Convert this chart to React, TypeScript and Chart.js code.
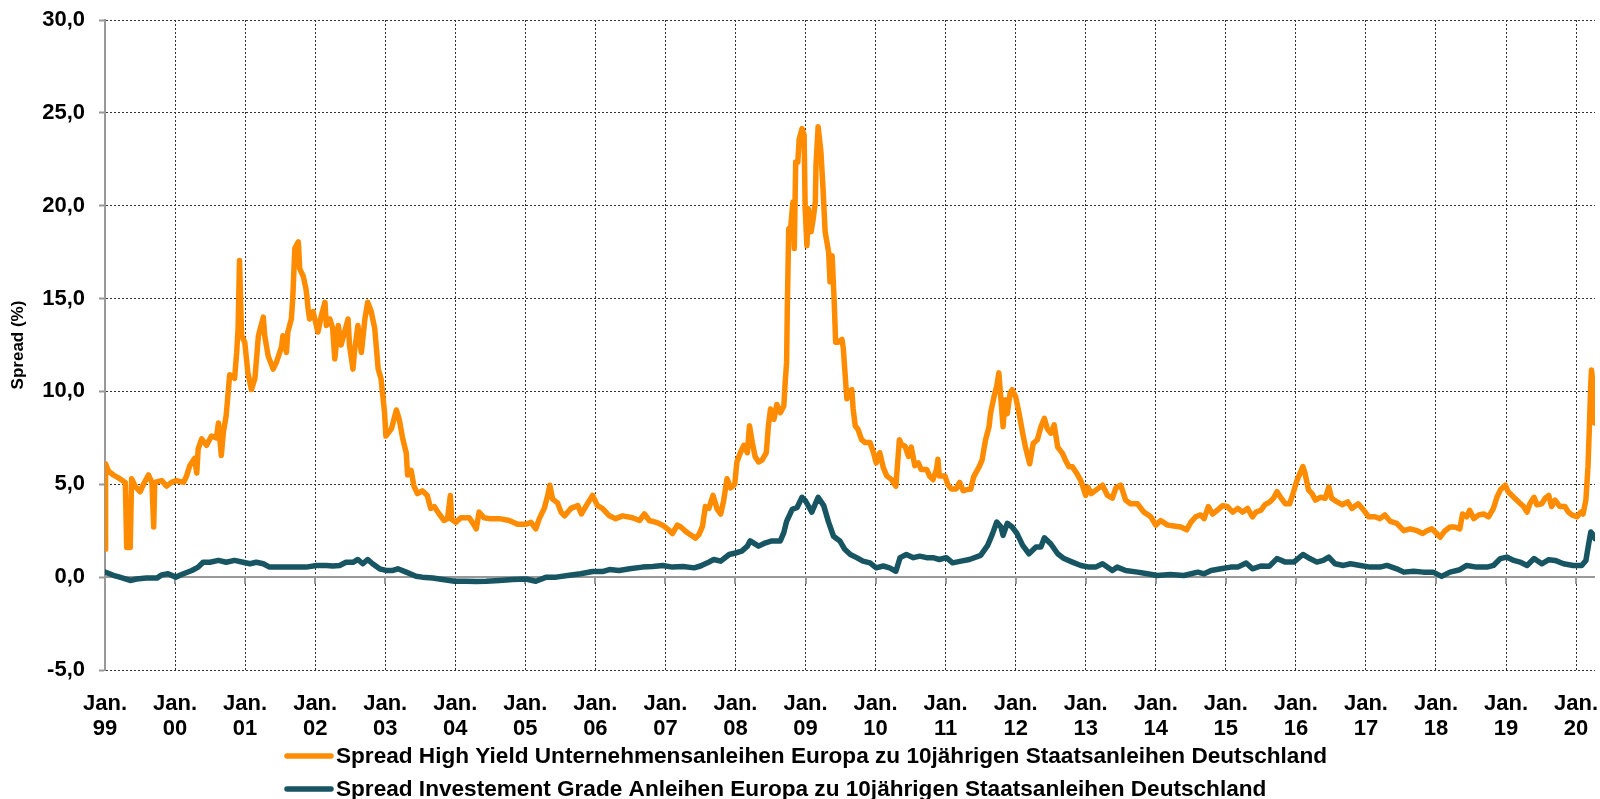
import React, { useEffect, useRef } from 'react';
import { Chart, registerables } from 'chart.js';

Chart.register(...registerables);

// High Yield spread (decimal year, %)
const hyDates = [
  1999.0, 1999.008, 1999.05, 1999.12, 1999.21, 1999.29, 1999.31, 1999.36, 1999.38, 1999.43,
  1999.5, 1999.55, 1999.62, 1999.67, 1999.695, 1999.71, 1999.81, 1999.88, 1999.95, 2000.02,
  2000.12, 2000.16, 2000.21, 2000.28, 2000.31, 2000.33, 2000.38, 2000.45, 2000.52, 2000.59,
  2000.62, 2000.66, 2000.69, 2000.73, 2000.78, 2000.85, 2000.88, 2000.9, 2000.92, 2000.95,
  2000.995, 2001.04, 2001.09, 2001.14, 2001.19, 2001.26, 2001.28, 2001.33, 2001.4, 2001.45,
  2001.52, 2001.54, 2001.59, 2001.61, 2001.66, 2001.68, 2001.71, 2001.76, 2001.78, 2001.83,
  2001.87, 2001.9, 2001.92, 2001.97, 2002.04, 2002.09, 2002.14, 2002.16, 2002.21, 2002.25,
  2002.28, 2002.33, 2002.37, 2002.42, 2002.47, 2002.49, 2002.54, 2002.56, 2002.61, 2002.66,
  2002.71, 2002.75, 2002.8, 2002.85, 2002.9, 2002.94, 2002.99, 2003.01, 2003.09, 2003.16,
  2003.2, 2003.25, 2003.3, 2003.32, 2003.37, 2003.41, 2003.46, 2003.53, 2003.6, 2003.65,
  2003.7, 2003.77, 2003.84, 2003.89, 2003.93, 2003.95, 2004.01, 2004.08, 2004.2, 2004.27,
  2004.3, 2004.34, 2004.41, 2004.49, 2004.63, 2004.77, 2004.89, 2005.01, 2005.08, 2005.15,
  2005.2, 2005.27, 2005.32, 2005.35, 2005.39, 2005.46, 2005.51, 2005.56, 2005.65, 2005.75,
  2005.8, 2005.87, 2005.96, 2006.03, 2006.1, 2006.2, 2006.29, 2006.39, 2006.53, 2006.63,
  2006.7, 2006.77, 2006.87, 2006.96, 2007.06, 2007.1, 2007.17, 2007.22, 2007.31, 2007.43,
  2007.48, 2007.53, 2007.57, 2007.62, 2007.68, 2007.74, 2007.79, 2007.83, 2007.88, 2007.93,
  2007.99, 2008.02, 2008.07, 2008.12, 2008.17, 2008.2, 2008.24, 2008.28, 2008.33, 2008.38,
  2008.44, 2008.47, 2008.5, 2008.55, 2008.59, 2008.64, 2008.69, 2008.71, 2008.73, 2008.74,
  2008.76, 2008.79, 2008.82, 2008.84, 2008.86, 2008.89, 2008.91, 2008.95, 2008.98, 2008.995,
  2009.02, 2009.04, 2009.08, 2009.11, 2009.14, 2009.15, 2009.18, 2009.22, 2009.25, 2009.28,
  2009.33, 2009.35, 2009.38, 2009.41, 2009.43, 2009.47, 2009.52, 2009.54, 2009.56, 2009.59,
  2009.61, 2009.66, 2009.68, 2009.71, 2009.75, 2009.8, 2009.85, 2009.92, 2009.97, 2010.01,
  2010.06, 2010.11, 2010.16, 2010.23, 2010.29, 2010.34, 2010.37, 2010.42, 2010.47, 2010.51,
  2010.56, 2010.61, 2010.65, 2010.73, 2010.77, 2010.82, 2010.87, 2010.89, 2010.91, 2010.99,
  2011.03, 2011.08, 2011.15, 2011.2, 2011.25, 2011.29, 2011.36, 2011.4, 2011.48, 2011.52,
  2011.57, 2011.62, 2011.64, 2011.69, 2011.73, 2011.76, 2011.79, 2011.82, 2011.85, 2011.88,
  2011.92, 2011.95, 2012.0, 2012.05, 2012.1, 2012.14, 2012.2, 2012.25, 2012.31, 2012.36,
  2012.41, 2012.45, 2012.5, 2012.55, 2012.6, 2012.67, 2012.71, 2012.76, 2012.81, 2012.87,
  2012.93, 2013.0, 2013.03, 2013.08, 2013.15, 2013.24, 2013.31, 2013.38, 2013.43, 2013.5,
  2013.57, 2013.64, 2013.74, 2013.83, 2013.93, 2014.0, 2014.07, 2014.17, 2014.26, 2014.36,
  2014.44, 2014.5, 2014.57, 2014.64, 2014.69, 2014.75, 2014.81, 2014.88, 2014.95, 2015.02,
  2015.1, 2015.17, 2015.24, 2015.31, 2015.38, 2015.43, 2015.5, 2015.56, 2015.63, 2015.68,
  2015.73, 2015.79, 2015.85, 2015.91, 2015.96, 2016.01, 2016.06, 2016.1, 2016.13, 2016.18,
  2016.23, 2016.28, 2016.35, 2016.42, 2016.47, 2016.51, 2016.59, 2016.66, 2016.74, 2016.8,
  2016.89, 2016.97, 2017.04, 2017.13, 2017.2, 2017.27, 2017.35, 2017.44, 2017.54, 2017.63,
  2017.73, 2017.81, 2017.87, 2017.94, 2018.01, 2018.06, 2018.13, 2018.2, 2018.27, 2018.34,
  2018.38, 2018.44, 2018.48, 2018.54, 2018.61, 2018.68, 2018.75, 2018.82, 2018.87, 2018.92,
  2018.99, 2019.03, 2019.11, 2019.18, 2019.25, 2019.3, 2019.34, 2019.4, 2019.44, 2019.51,
  2019.56, 2019.61, 2019.65, 2019.7, 2019.77, 2019.84, 2019.89, 2019.94, 2020.01, 2020.07,
  2020.1, 2020.14, 2020.17, 2020.19, 2020.21, 2020.22, 2020.25, 2020.265,
];
const hyValues = [
  1.5, 6.1, 5.7, 5.5, 5.3, 5.1, 1.6, 1.6, 5.3, 4.9,
  4.6, 5.0, 5.5, 5.1, 2.7, 5.1, 5.2, 4.9, 5.1, 5.2,
  5.1, 5.4, 6.0, 6.4, 5.6, 6.9, 7.45, 7.1, 7.6, 7.5,
  8.3, 6.55, 7.8, 8.7, 10.9, 10.7, 12.1, 13.4, 17.05, 13.0,
  12.65, 11.0, 10.1, 10.7, 13.0, 14.0, 13.0, 11.9, 11.2, 11.6,
  12.4, 13.0, 12.1, 13.2, 13.9, 15.0, 17.7, 18.05, 16.6, 16.2,
  15.5, 14.45, 13.9, 14.3, 13.2, 14.1, 14.8, 13.55, 13.9, 13.4,
  11.75, 13.55, 12.5, 13.2, 13.9, 12.5, 11.2, 12.1, 13.55, 12.1,
  13.9, 14.8, 14.3, 13.4, 11.2, 10.7, 8.9, 7.6, 8.0, 9.0,
  8.5, 7.45, 6.7, 5.5, 5.75, 4.9, 4.5, 4.65, 4.4, 3.7,
  3.8, 3.4, 3.05, 3.15, 4.4, 3.1, 2.95, 3.2, 3.2, 2.8,
  2.6, 3.5, 3.2, 3.15, 3.15, 3.05, 2.85, 2.85, 2.95, 2.6,
  3.15, 3.7, 4.4, 4.95, 4.2, 4.0, 3.5, 3.3, 3.7, 3.85,
  3.4, 3.85, 4.4, 3.85, 3.7, 3.3, 3.15, 3.3, 3.2, 3.05,
  3.4, 3.05, 2.95, 2.8, 2.5, 2.35, 2.8, 2.7, 2.4, 2.1,
  2.3, 2.75, 3.8, 3.7, 4.4, 3.65, 3.4, 4.1, 5.3, 4.8,
  5.0, 6.2, 6.7, 7.1, 6.7, 8.15, 7.25, 6.5, 6.2, 6.3,
  6.7, 8.15, 9.05, 8.5, 9.3, 8.85, 9.2, 10.5, 11.55, 14.45,
  18.75, 18.9, 20.2, 17.7, 22.35, 22.35, 23.6, 24.15, 23.8, 19.85,
  17.85, 19.85, 18.6, 19.3, 20.2, 22.2, 24.25, 22.9, 20.9, 18.6,
  17.5, 15.9, 17.3, 14.8, 12.65, 12.65, 12.8, 12.3, 11.2, 9.6,
  9.95, 10.1, 9.05, 8.15, 7.95, 7.4, 7.25, 7.25, 6.7, 6.15,
  6.7, 5.9, 5.45, 5.25, 4.9, 7.4, 7.15, 7.05, 6.5, 7.0,
  6.0, 6.15, 5.8, 5.8, 5.45, 5.25, 5.8, 6.35, 5.45, 5.45,
  5.0, 4.75, 4.75, 5.1, 4.65, 4.7, 4.75, 5.4, 5.95, 6.3,
  7.4, 8.1, 8.8, 9.7, 10.3, 11.0, 9.55, 8.1, 9.55, 8.8,
  9.9, 10.1, 9.7, 8.8, 7.75, 7.0, 6.1, 7.2, 7.4, 8.1,
  8.55, 8.0, 7.75, 8.2, 7.0, 6.65, 6.3, 5.95, 5.95, 5.6,
  5.2, 4.4, 4.85, 4.5, 4.7, 4.95, 4.4, 4.25, 4.8, 4.95,
  4.15, 3.95, 3.95, 3.5, 3.25, 2.8, 3.05, 2.8, 2.75, 2.7,
  2.55, 2.95, 3.25, 3.35, 3.15, 3.8, 3.4, 3.6, 3.85, 3.8,
  3.5, 3.7, 3.5, 3.7, 3.25, 3.5, 3.6, 3.9, 4.05, 4.25,
  4.6, 4.25, 3.95, 3.95, 4.5, 5.15, 5.6, 5.95, 5.6, 4.7,
  4.5, 4.15, 4.3, 4.25, 4.85, 4.25, 4.05, 3.9, 4.05, 3.7,
  3.95, 3.6, 3.25, 3.25, 3.15, 3.35, 3.0, 2.9, 2.5, 2.6,
  2.5, 2.35, 2.5, 2.6, 2.35, 2.15, 2.5, 2.7, 2.7, 2.6,
  3.4, 3.25, 3.6, 3.15, 3.35, 3.4, 3.25, 3.7, 4.3, 4.7,
  4.95, 4.6, 4.3, 4.05, 3.8, 3.5, 3.95, 4.3, 3.9, 3.95,
  4.25, 4.4, 3.8, 4.15, 3.8, 3.8, 3.5, 3.35, 3.25, 3.5,
  3.4, 4.15, 5.95, 8.1, 10.45, 11.15, 10.1, 8.3,
];

// Investment Grade spread (decimal year, %)
const igDates = [
  1999.0, 1999.12, 1999.21, 1999.36, 1999.45, 1999.59, 1999.74, 1999.81, 1999.9, 2000.01,
  2000.12, 2000.24, 2000.33, 2000.4, 2000.5, 2000.62, 2000.73, 2000.85, 2000.97, 2001.07,
  2001.16, 2001.26, 2001.35, 2001.49, 2001.64, 2001.78, 2001.87, 2002.02, 2002.16, 2002.25,
  2002.35, 2002.44, 2002.54, 2002.61, 2002.68, 2002.75, 2002.82, 2002.92, 2003.01, 2003.11,
  2003.18, 2003.3, 2003.44, 2003.53, 2003.68, 2003.82, 2003.99, 2004.15, 2004.3, 2004.44,
  2004.63, 2004.82, 2005.01, 2005.15, 2005.3, 2005.44, 2005.63, 2005.79, 2005.96, 2006.1,
  2006.2, 2006.34, 2006.49, 2006.67, 2006.82, 2006.96, 2007.1, 2007.25, 2007.41, 2007.5,
  2007.6, 2007.69, 2007.79, 2007.91, 2008.0, 2008.09, 2008.17, 2008.21, 2008.33, 2008.43,
  2008.52, 2008.64, 2008.69, 2008.73, 2008.81, 2008.88, 2008.95, 2009.0, 2009.09, 2009.18,
  2009.26, 2009.33, 2009.4, 2009.49, 2009.56, 2009.64, 2009.73, 2009.82, 2009.92, 2010.01,
  2010.11, 2010.2, 2010.29, 2010.35, 2010.44, 2010.54, 2010.63, 2010.73, 2010.82, 2010.91,
  2011.01, 2011.1, 2011.22, 2011.34, 2011.5, 2011.6, 2011.67, 2011.73, 2011.79, 2011.82,
  2011.88, 2011.95, 2012.02, 2012.1, 2012.19, 2012.29, 2012.36, 2012.41, 2012.5, 2012.6,
  2012.69, 2012.81, 2012.93, 2013.05, 2013.14, 2013.24, 2013.38, 2013.45, 2013.57, 2013.74,
  2013.88, 2014.02, 2014.21, 2014.4, 2014.6, 2014.69, 2014.79, 2014.93, 2015.07, 2015.17,
  2015.29, 2015.38, 2015.5, 2015.62, 2015.73, 2015.85, 2015.97, 2016.1, 2016.2, 2016.3,
  2016.39, 2016.47, 2016.56, 2016.68, 2016.78, 2016.92, 2017.06, 2017.2, 2017.3, 2017.44,
  2017.54, 2017.68, 2017.82, 2017.96, 2018.08, 2018.2, 2018.34, 2018.44, 2018.58, 2018.73,
  2018.82, 2018.92, 2019.01, 2019.11, 2019.2, 2019.3, 2019.4, 2019.51, 2019.61, 2019.7,
  2019.82, 2019.96, 2020.08, 2020.14, 2020.18, 2020.21, 2020.25, 2020.27,
];
const igValues = [
  0.27, 0.1, 0.0, -0.18, -0.1, -0.05, -0.05, 0.12, 0.18, 0.0,
  0.18, 0.36, 0.54, 0.8, 0.8, 0.9, 0.8, 0.9, 0.8, 0.72,
  0.8, 0.72, 0.54, 0.54, 0.54, 0.54, 0.54, 0.63, 0.63, 0.6,
  0.63, 0.8, 0.8, 0.95, 0.72, 0.95, 0.72, 0.45, 0.36, 0.36,
  0.45, 0.27, 0.05, 0.0, -0.05, -0.13, -0.22, -0.22, -0.23, -0.22,
  -0.18, -0.13, -0.1, -0.22, 0.0, 0.0, 0.1, 0.18, 0.3, 0.3,
  0.41, 0.36, 0.45, 0.54, 0.57, 0.63, 0.54, 0.57, 0.5, 0.6,
  0.77, 0.95, 0.86, 1.22, 1.3, 1.4, 1.67, 1.95, 1.67, 1.85,
  1.95, 1.95, 2.4, 3.0, 3.65, 3.75, 4.3, 4.1, 3.5, 4.3,
  3.85, 2.95, 2.2, 1.95, 1.5, 1.22, 1.05, 0.86, 0.77, 0.5,
  0.6, 0.5, 0.32, 1.05, 1.22, 1.05, 1.13, 1.05, 1.05, 0.95,
  1.05, 0.77, 0.86, 0.95, 1.17, 1.71, 2.34, 2.97, 2.7, 2.25,
  2.9, 2.7, 2.34, 1.71, 1.26, 1.62, 1.62, 2.12, 1.8, 1.26,
  1.0, 0.81, 0.63, 0.54, 0.54, 0.72, 0.36, 0.54, 0.36, 0.27,
  0.18, 0.09, 0.14, 0.09, 0.27, 0.18, 0.36, 0.45, 0.54, 0.54,
  0.76, 0.45, 0.6, 0.58, 1.0, 0.81, 0.81, 1.22, 1.0, 0.81,
  0.9, 1.08, 0.72, 0.63, 0.72, 0.63, 0.54, 0.54, 0.63, 0.45,
  0.27, 0.32, 0.27, 0.27, 0.04, 0.27, 0.4, 0.63, 0.54, 0.54,
  0.63, 1.0, 1.08, 0.9, 0.81, 0.63, 1.0, 0.72, 0.94, 0.9,
  0.72, 0.63, 0.63, 0.9, 1.8, 2.43, 2.25, 2.07,
];

const tickYears = [
  1999, 2000, 2001, 2002, 2003, 2004, 2005, 2006, 2007, 2008, 2009,
  2010, 2011, 2012, 2013, 2014, 2015, 2016, 2017, 2018, 2019, 2020,
];
const tickLabels = tickYears.map((y) => ['Jan.', String(y % 100).padStart(2, '0')]);

const seriesLabels = [
  'Spread High Yield Unternehmensanleihen Europa zu 10jährigen Staatsanleihen Deutschland',
  'Spread Investement Grade Anleihen Europa zu 10jährigen Staatsanleihen Deutschland',
];
const seriesColors = ['#FF8C00', '#175563'];

const FONT = "'Liberation Sans', Arial, Helvetica, sans-serif";

const zeroLinePlugin = {
  id: 'zeroLine',
  beforeDatasetsDraw(chart: any) {
    const { ctx, chartArea, scales } = chart;
    const x = scales.x;
    const y = scales.y;
    const y0 = Math.round(y.getPixelForValue(0));
    ctx.save();
    ctx.strokeStyle = '#999999';
    ctx.lineWidth = 2;
    ctx.setLineDash([]);
    ctx.beginPath();
    ctx.moveTo(chartArea.left, y0);
    ctx.lineTo(chartArea.right, y0);
    tickYears.forEach((v) => {
      const px = Math.round(x.getPixelForValue(v));
      ctx.moveTo(px, y0);
      ctx.lineTo(px, y0 + 7);
    });
    ctx.stroke();
    ctx.restore();
  },
};

const legendPlugin = {
  id: 'customLegend',
  afterDraw(chart: any) {
    const { ctx } = chart;
    ctx.save();
    ctx.font = `bold 22.6px ${FONT}`;
    ctx.textBaseline = 'middle';
    ctx.textAlign = 'left';
    chart.data.datasets.forEach((ds: any, i: number) => {
      const yy = 756 + i * 33;
      ctx.strokeStyle = ds.borderColor;
      ctx.lineWidth = 5.5;
      ctx.lineCap = 'round';
      ctx.beginPath();
      ctx.moveTo(287, yy);
      ctx.lineTo(331, yy);
      ctx.stroke();
      ctx.fillStyle = '#000000';
      ctx.fillText(ds.label, 336, yy + 1);
    });
    ctx.restore();
  },
};

export default function App() {
  const canvasRef = useRef<HTMLCanvasElement | null>(null);

  useEffect(() => {
    document.body.style.margin = '0';
    const canvas = canvasRef.current;
    if (!canvas) return;
    const chart = new Chart(canvas, {
      type: 'line',
      data: {
        datasets: [
          {
            label: seriesLabels[0],
            data: hyDates.map((d, i) => ({ x: d, y: hyValues[i] })),
            borderColor: seriesColors[0],
            backgroundColor: seriesColors[0],
            borderWidth: 5.5,
            pointRadius: 0,
            tension: 0,
            borderJoinStyle: 'round',
            borderCapStyle: 'round',
          },
          {
            label: seriesLabels[1],
            data: igDates.map((d, i) => ({ x: d, y: igValues[i] })),
            borderColor: seriesColors[1],
            backgroundColor: seriesColors[1],
            borderWidth: 5.5,
            pointRadius: 0,
            tension: 0,
            borderJoinStyle: 'round',
            borderCapStyle: 'round',
          },
        ],
      },
      options: {
        animation: false,
        responsive: false,
        devicePixelRatio: 1,
        layout: { padding: { left: 0, right: 5, top: 20, bottom: 49 } },
        plugins: {
          legend: { display: false },
          tooltip: { enabled: false },
        },
        scales: {
          x: {
            type: 'linear',
            min: 1999,
            max: 2020.27,
            afterBuildTicks: (scale: any) => {
              scale.ticks = tickYears.map((v) => ({ value: v }));
            },
            afterFit: (scale: any) => {
              scale.height = 80;
              scale.paddingLeft = 0;
              scale.paddingRight = 0;
            },
            grid: {
              color: '#333333',
              lineWidth: 1,
              drawTicks: false,
            },
            border: { display: false, dash: [2, 2] },
            ticks: {
              autoSkip: false,
              maxRotation: 0,
              minRotation: 0,
              padding: 21,
              color: '#000000',
              font: { family: FONT, size: 22, weight: 'bold', lineHeight: 1.15 },
              callback: (value: any) => {
                const idx = tickYears.indexOf(Number(value));
                return idx >= 0 ? tickLabels[idx] : '';
              },
            },
          },
          y: {
            min: -5,
            max: 30,
            afterFit: (scale: any) => {
              scale.width = 105;
              scale.paddingTop = 0;
              scale.paddingBottom = 0;
            },
            grid: {
              color: '#333333',
              lineWidth: 1,
              tickLength: 6,
              tickColor: '#999999',
              tickWidth: 2,
            },
            border: { display: true, color: '#999999', width: 2, dash: [2, 2] },
            title: {
              display: true,
              text: 'Spread (%)',
              color: '#000000',
              font: { family: FONT, size: 17, weight: 'bold', lineHeight: 1.2 },
              padding: { top: 8, bottom: 0 },
            },
            ticks: {
              stepSize: 5,
              padding: 14,
              color: '#000000',
              font: { family: FONT, size: 22, weight: 'bold' },
              callback: (value: any) => Number(value).toFixed(1).replace('.', ','),
            },
          },
        },
      },
      plugins: [zeroLinePlugin, legendPlugin],
    } as any);
    return () => chart.destroy();
  }, []);

  return (
    <canvas
      ref={canvasRef}
      width={1600}
      height={799}
      style={{ display: 'block', width: '1600px', height: '799px' }}
    />
  );
}
